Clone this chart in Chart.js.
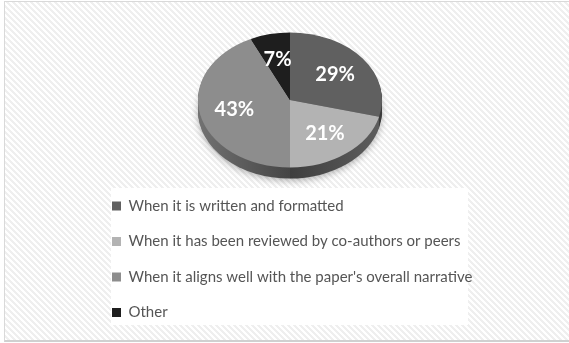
<!DOCTYPE html>
<html>
<head>
<meta charset="utf-8">
<script src="https://cdn.jsdelivr.net/npm/chart.js@4"></script>
<style>
  html, body { margin: 0; padding: 0; background: #fff; }
  #wrap { position: relative; width: 569px; height: 343px; overflow: hidden; }
  /* hatched plot frame */
  #frame {
    position: absolute; left: 4px; top: 1px; width: 570px; height: 338px;
    border: 1px solid #d9d9d9; border-bottom: 2px solid #d0d0d0; border-right: none;
    background: repeating-linear-gradient(45deg, #fff 0, #fff 2.1px, #efefef 2.1px, #efefef 4.24px);
  }
  #legendBg { position: absolute; left: 111px; top: 188px; width: 357px; height: 137px; background: #fff; }
  canvas { position: absolute; left: 0; top: 0; }
</style>
</head>
<body>
<div id="wrap">
  <div id="frame"></div>
  <div id="legendBg"></div>
  <canvas id="chart" width="569" height="343"></canvas>
</div>
<script>
// answers
const categories = [
  'When it is written and formatted',
  'When it has been reviewed by co-authors or peers',
  "When it aligns well with the paper's overall narrative",
  'Other'
];
const shares = [29, 21, 43, 7];

// colours of the top face and the shaded rim
const sliceColors = ['#606060', '#b3b3b3', '#8d8d8d', '#1e1e1e'];
const sideEdge = ['#3a3a3a', '#5e5e5e', '#727272', '#111111'];
const sideMid = ['#2c2c2c', '#3e3e3e', '#454545', '#0a0a0a'];
const TILT = 0.734;   // vertical squash of the disc
const DEPTH = 11;     // rim thickness in px

function tilt(ctx, cx, cy, dy) {
  ctx.translate(cx, cy + dy);
  ctx.scale(1, TILT);
  ctx.translate(-cx, -cy);
}

// draws the pie as a tilted disc with a rim and percentage labels
const pie3d = {
  id: 'pie3d',
  beforeDatasetsDraw(chart) {
    const ctx = chart.ctx;
    const arcs = chart.getDatasetMeta(0).data;
    const cx = arcs[0].x, cy = arcs[0].y, r = arcs[0].outerRadius;
    for (let d = DEPTH; d >= 1; d--) {
      ctx.save();
      tilt(ctx, cx, cy, d);
      if (d === DEPTH) {
        ctx.shadowColor = 'rgba(0,0,0,0.3)';
        ctx.shadowBlur = 7;
        ctx.shadowOffsetY = 2;
      }
      arcs.forEach((arc, i) => {
        const g = ctx.createLinearGradient(cx - r, 0, cx + r, 0);
        g.addColorStop(0, sideEdge[i]);
        g.addColorStop(0.5, sideMid[i]);
        g.addColorStop(1, sideEdge[i]);
        ctx.fillStyle = g;
        ctx.beginPath();
        ctx.moveTo(arc.x, arc.y);
        ctx.arc(arc.x, arc.y, arc.outerRadius, arc.startAngle, arc.endAngle);
        ctx.closePath();
        ctx.fill();
      });
      ctx.restore();
    }
    // top face is drawn by the controller under this transform
    ctx.save();
    tilt(ctx, cx, cy, 0);
  },
  afterDatasetsDraw(chart) {
    const ctx = chart.ctx;
    ctx.restore();
    const arcs = chart.getDatasetMeta(0).data;
    ctx.save();
    ctx.fillStyle = '#fff';
    ctx.font = 'bold 20px Lato';
    ctx.textAlign = 'center';
    ctx.textBaseline = 'middle';
    arcs.forEach((arc, i) => {
      const mid = (arc.startAngle + arc.endAngle) / 2;
      const rr = arc.outerRadius * 0.62;
      const x = arc.x + Math.cos(mid) * rr;
      const y = arc.y + Math.sin(mid) * rr * TILT;
      ctx.fillText(shares[i] + '%', x, y);
    });
    ctx.restore();
  }
};

new Chart(document.getElementById('chart'), {
  type: 'pie',
  data: {
    labels: categories,
    datasets: [{
      data: shares,
      backgroundColor: sliceColors,
      borderWidth: 0,
      radius: 92,
      clip: false
    }]
  },
  options: {
    responsive: false,
    animation: false,
    events: [],
    layout: { padding: { left: 91.5, right: 80.5, top: 22, bottom: 13 } },
    plugins: {
      legend: {
        position: 'bottom',
        align: 'start',
        labels: {
          boxWidth: 9,
          boxHeight: 9,
          padding: 20.5,
          color: '#555555',
          font: { family: 'Lato', size: 15 }
        }
      },
      tooltip: { enabled: false }
    }
  },
  plugins: [pie3d]
});
</script>
</body>
</html>
